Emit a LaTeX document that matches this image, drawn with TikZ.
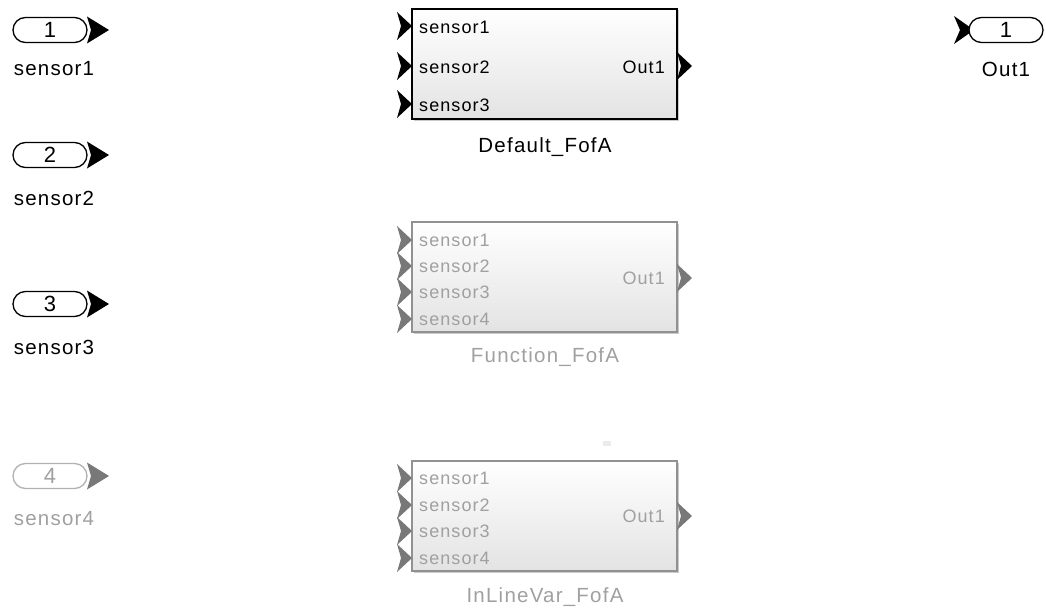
\documentclass[tikz,border=0pt]{standalone}
\usepackage{fontspec}
\setmainfont[LetterSpace=6]{Liberation Sans}
\usetikzlibrary{shadows}
\definecolor{dimtext}{RGB}{160,160,160}
\definecolor{dimline}{RGB}{145,145,145}
\definecolor{dimport}{RGB}{120,120,120}
\begin{document}
\begin{tikzpicture}[x=1pt,y=-1pt,
  pill/.style={draw, fill=white, rounded corners=12.5pt, line width=1.3pt, minimum width=74pt, minimum height=25pt, inner sep=0pt, font=\fontsize{22}{22}\selectfont},
  lbl/.style={font=\fontsize{20.5}{20.5}\selectfont, inner sep=0pt},
  blk/.style={draw, line width=1.1pt, minimum width=265pt, minimum height=110pt, inner sep=0pt,
    top color=white, bottom color=black!11,
    drop shadow={shadow xshift=1.5pt, shadow yshift=-1.5pt, opacity=0.35, fill=black!60}},
  ptxt/.style={font=\fontsize{18}{18}\selectfont, inner sep=0pt, anchor=west},
  otxt/.style={font=\fontsize{18}{18}\selectfont, inner sep=0pt, anchor=east},
  dim/.style={draw=dimline, text=dimtext},
  inarr/.pic={\fill[line join=round] (0,-13.5) -- (22,0) -- (0,13.5) -- (4,0) -- cycle;},
  barr/.pic={\fill[line join=round] (0,-14) -- (15,0) -- (0,14) -- (4,0) -- cycle;},
  outarr/.pic={\fill[line join=round] (0,-14) -- (20,0) -- (0,14) -- (6,0) -- cycle;}
]
\useasboundingbox (0,0) rectangle (1046,610);

% Inports
\pic[black] at (87,30) {inarr};
\node[pill] (in1) at (50,30) {1};
\node[lbl] (l1) at (54,69) {sensor1};

\pic[black] at (87,155) {inarr};
\node[pill] (in2) at (50,155) {2};
\node[lbl] (l2) at (54,198) {sensor2};

\pic[black] at (87,304) {inarr};
\node[pill] (in3) at (50,304) {3};
\node[lbl] (l3) at (54,347) {sensor3};

\pic[dimport] at (87,476) {inarr};
\node[pill, dim, draw=dimline!70] (in4) at (50,476) {4};
\node[lbl, text=dimtext] (l4) at (54,519) {sensor4};

% Default_FofA
\node[blk] (b1) at (544.5,64) {};
\foreach \yy in {26,66,104} \pic[black] at (397,\yy) {barr};
\pic[black] at (677,66) {barr};
\node[ptxt] (b1p1) at (419,27) {sensor1};
\node[ptxt] (b1p2) at (419,67) {sensor2};
\node[ptxt] (b1p3) at (419,105) {sensor3};
\node[otxt] (b1o) at (665,67) {Out1};
\node[lbl] (b1l) at (545,147) {Default\_FofA};

% Function_FofA
\node[blk, draw=dimline] (b2) at (544.5,277) {};
\foreach \yy in {240,266,292,319} \pic[dimport] at (397,\yy) {barr};
\pic[dimport] at (677,278) {barr};
\node[ptxt, text=dimtext] (b2p1) at (419,240) {sensor1};
\node[ptxt, text=dimtext] (b2p2) at (419,266) {sensor2};
\node[ptxt, text=dimtext] (b2p3) at (419,292) {sensor3};
\node[ptxt, text=dimtext] (b2p4) at (419,319) {sensor4};
\node[otxt, text=dimtext] (b2o) at (665,278) {Out1};
\node[lbl, text=dimtext] (b2l) at (545,357) {Function\_FofA};

% InLineVar_FofA
\node[blk, draw=dimline] (b3) at (544.5,516) {};
\foreach \yy in {478,505,531,558} \pic[dimport] at (397,\yy) {barr};
\pic[dimport] at (677,516) {barr};
\node[ptxt, text=dimtext] (b3p1) at (419,478) {sensor1};
\node[ptxt, text=dimtext] (b3p2) at (419,505) {sensor2};
\node[ptxt, text=dimtext] (b3p3) at (419,531) {sensor3};
\node[ptxt, text=dimtext] (b3p4) at (419,558) {sensor4};
\node[otxt, text=dimtext] (b3o) at (665,516) {Out1};
\node[lbl, text=dimtext] (b3l) at (545,597) {InLineVar\_FofA};

% faint mark
\fill[black!8] (603,441) rectangle (611,446);

% Outport
\pic[black] at (954,30) {outarr};
\node[pill] (out1) at (1006,30) {1};
\node[lbl] (ol) at (1006,69) {Out1};
\end{tikzpicture}
\end{document}
